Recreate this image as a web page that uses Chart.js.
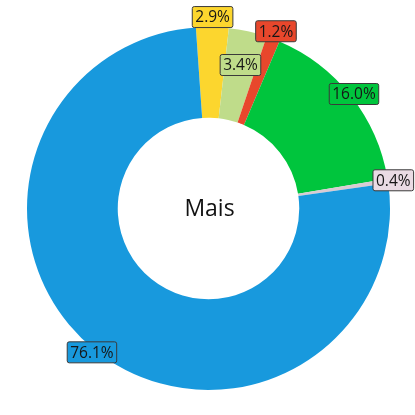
<!DOCTYPE html>
<html><head><meta charset="utf-8">
<script src="https://cdn.jsdelivr.net/npm/chart.js@4/dist/chart.umd.min.js"></script>
<style>html,body{margin:0;padding:0;background:#fff}#wrap{width:415px;height:415px}</style>
</head><body><div id="wrap"><canvas id="c"></canvas></div>
<script>
const categories = ["A", "B", "C", "D", "E", "F"];
const values = [2.9, 3.4, 1.2, 16.0, 0.4, 76.1];
const tickLabels = ["2.9%", "3.4%", "1.2%", "16.0%", "0.4%", "76.1%"];
const colors = ["#fcd62e", "#bfdc8a", "#e8472c", "#00c53d", "#d9cbd3", "#1899dd"];
const labelBg = ["#fcd62e", "#bfdc8a", "#e8472c", "#00c53d", "#eadbe4", "#1899dd"];
const centerText = "Mais";

const labelPlugin = {
  id: 'boxLabels',
  afterDatasetsDraw(chart, args, opts) {
    const ctx = chart.ctx;
    const meta = chart.getDatasetMeta(0);
    ctx.save();
    ctx.font = '15.5px "Open Sans", sans-serif';
    ctx.textAlign = 'center';
    ctx.textBaseline = 'middle';
    meta.data.forEach((arc, i) => {
      const mid = (arc.startAngle + arc.endAngle) / 2;
      const r = arc.outerRadius * opts.radius[i];
      const x = arc.x + Math.cos(mid) * r;
      const y = arc.y + Math.sin(mid) * r;
      const t = tickLabels[i];
      const w = ctx.measureText(t).width + 6;
      const h = 21;
      ctx.beginPath();
      ctx.roundRect(x - w / 2, y - h / 2, w, h, 2);
      ctx.fillStyle = labelBg[i];
      ctx.fill();
      ctx.lineWidth = 1;
      ctx.strokeStyle = '#3a3a3a';
      ctx.stroke();
      ctx.fillStyle = '#161616';
      ctx.fillText(t, x, y + 1);
    });
    ctx.font = '23px "Open Sans", sans-serif';
    ctx.fillStyle = '#111';
    const a = meta.data[0];
    ctx.fillText(centerText, a.x + 1, a.y + 1);
    ctx.restore();
  }
};

new Chart(document.getElementById('c'), {
  type: 'doughnut',
  data: {
    labels: categories,
    datasets: [{ data: values, backgroundColor: colors, borderWidth: 0 }]
  },
  options: {
    responsive: true,
    maintainAspectRatio: false,
    animation: false,
    rotation: -4,
    cutout: '50%',
    layout: { padding: { top: 27, bottom: 25, left: 27, right: 25 } },
    plugins: {
      legend: { display: false },
      tooltip: { enabled: false },
      boxLabels: { radius: [1.055, 0.81, 1.045, 1.02, 1.03, 1.02] }
    }
  },
  plugins: [labelPlugin]
});
</script>
</body></html>
